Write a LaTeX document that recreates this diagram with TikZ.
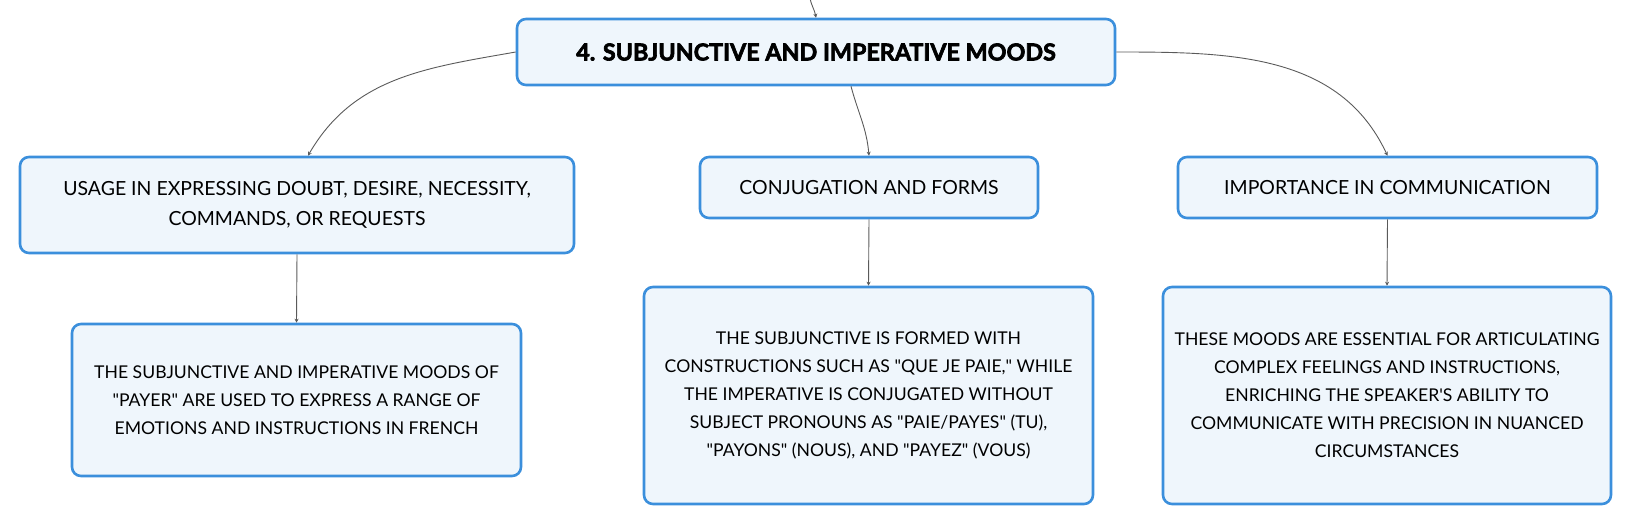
\documentclass[tikz,border=0pt]{standalone}
\usepackage{fontspec}
\setmainfont{Lato}
\newfontfamily\titlefont{Lato}[BoldFeatures={FakeBold=2.8}]
\usetikzlibrary{arrows.meta}
\newdimen\pxu \pxu=0.75pt
\newcommand\qd{\textquotedbl}
\definecolor{boxline}{HTML}{3B8FDC}
\definecolor{boxfill}{HTML}{EFF6FC}
\definecolor{conn}{HTML}{5A5A5A}
\tikzset{
  mbox/.style={draw=boxline, fill=boxfill, line width=2.6\pxu, rounded corners=9\pxu,
    align=center, inner sep=0pt, font=\fontsize{14.6}{22}\selectfont, text=black},
  leafbox/.style={mbox, font=\fontsize{13.2}{21}\selectfont},
  titlebox/.style={mbox, font=\fontsize{17.5}{20}\titlefont\bfseries},
  link/.style={draw=conn, line width=0.9\pxu, -{Stealth[length=3pt,width=3pt]}},
}
\begin{document}
\begin{tikzpicture}[x=0.75pt,y=-0.75pt]
\useasboundingbox (0,0) rectangle (1632,526);
\node[titlebox, minimum width=598\pxu, minimum height=66\pxu] (top) at (816,52) {4. SUBJUNCTIVE AND IMPERATIVE MOODS};
\node[mbox, minimum width=554\pxu, minimum height=96\pxu] (l1) at (297,205) {USAGE IN EXPRESSING DOUBT, DESIRE, NECESSITY,\\COMMANDS, OR REQUESTS};
\node[mbox, minimum width=338\pxu, minimum height=61\pxu] (m1) at (869,187.5) {CONJUGATION AND FORMS};
\node[mbox, minimum width=419\pxu, minimum height=61\pxu] (r1) at (1387.5,187.5) {IMPORTANCE IN COMMUNICATION};
\node[leafbox, minimum width=449\pxu, minimum height=152\pxu] (l2) at (296.5,400) {THE SUBJUNCTIVE AND IMPERATIVE MOODS OF\\\qd PAYER\qd{} ARE USED TO EXPRESS A RANGE OF\\EMOTIONS AND INSTRUCTIONS IN FRENCH};
\node[leafbox, minimum width=449\pxu, minimum height=217\pxu] (m2) at (868.5,395.5) {THE SUBJUNCTIVE IS FORMED WITH\\CONSTRUCTIONS SUCH AS \qd QUE JE PAIE,\qd{} WHILE\\THE IMPERATIVE IS CONJUGATED WITHOUT\\SUBJECT PRONOUNS AS \qd PAIE/PAYES\qd{} (TU),\\\qd PAYONS\qd{} (NOUS), AND \qd PAYEZ\qd{} (VOUS)};
\node[leafbox, minimum width=448\pxu, minimum height=217\pxu] (r2) at (1387,395.5) {THESE MOODS ARE ESSENTIAL FOR ARTICULATING\\COMPLEX FEELINGS AND INSTRUCTIONS,\\ENRICHING THE SPEAKER\textquotesingle S ABILITY TO\\COMMUNICATE WITH PRECISION IN NUANCED\\CIRCUMSTANCES};
\coordinate (in) at (810,-2);
\draw[link] (in) to[out=-80,in=100] (top.north);
\draw[link] (top.west) to[out=190,in=60] ([xshift=11\pxu]l1.north);
\draw[link] ([xshift=35\pxu]top.south) to[out=-75,in=95] (m1.north);
\draw[link] (top.east) to[out=0,in=115] (r1.north);
\draw[link] (l1.south) -- (l2.north);
\draw[link] (m1.south) -- (m2.north);
\draw[link] (r1.south) -- (r2.north);
\end{tikzpicture}
\end{document}
